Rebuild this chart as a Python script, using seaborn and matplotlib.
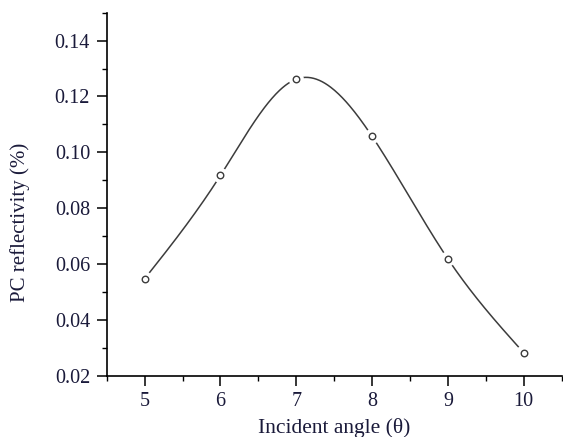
import numpy as np
import pandas as pd
import matplotlib
matplotlib.use("Agg")
import matplotlib.pyplot as plt
import seaborn as sns
from matplotlib.ticker import MultipleLocator

angles = [5, 6, 7, 8, 9, 10]
reflectivity = [0.0547, 0.0917, 0.1262, 0.1057, 0.0618, 0.0282]
x_ticks = [5, 6, 7, 8, 9, 10]
y_ticks = [0.02, 0.04, 0.06, 0.08, 0.10, 0.12, 0.14]


def natural_spline(x, y, xs):
    x = np.asarray(x, float); y = np.asarray(y, float)
    n = len(x)
    h = np.diff(x)
    A = np.zeros((n, n)); b = np.zeros(n)
    A[0, 0] = A[-1, -1] = 1
    for i in range(1, n - 1):
        A[i, i - 1] = h[i - 1]; A[i, i] = 2 * (h[i - 1] + h[i]); A[i, i + 1] = h[i]
        b[i] = 3 * ((y[i + 1] - y[i]) / h[i] - (y[i] - y[i - 1]) / h[i - 1])
    c = np.linalg.solve(A, b)
    out = np.empty_like(xs)
    for k, xv in enumerate(xs):
        i = min(max(np.searchsorted(x, xv) - 1, 0), n - 2)
        d = xv - x[i]
        bi = (y[i + 1] - y[i]) / h[i] - h[i] * (2 * c[i] + c[i + 1]) / 3
        di = (c[i + 1] - c[i]) / (3 * h[i])
        out[k] = y[i] + bi * d + c[i] * d ** 2 + di * d ** 3
    return out


df = pd.DataFrame({"angle": angles, "refl": reflectivity})
xs = np.linspace(angles[0], angles[-1], 400)
curve = pd.DataFrame({"angle": xs, "refl": natural_spline(angles, reflectivity, xs)})

sns.set_theme(style="white")
plt.rcParams["font.family"] = ["Liberation Serif", "DejaVu Serif"]

fig = plt.figure(figsize=(5.63, 4.37), dpi=100)
ax = fig.add_axes([0.1895, 0.1403, 0.8095, 0.8307])

sns.lineplot(data=curve, x="angle", y="refl", ax=ax, color="#3c3c3c", linewidth=1.1)
sns.scatterplot(data=df, x="angle", y="refl", ax=ax, s=120, color="white",
                edgecolor="none", linewidth=0, zorder=3)
sns.scatterplot(data=df, x="angle", y="refl", ax=ax, s=22, marker="o",
                facecolor="white", edgecolor="#3c3c3c", linewidth=1.0, zorder=4)

ax.set_xlim(4.5, 10.51)
ax.set_ylim(0.02, 0.15)
ax.set_xticks(x_ticks)
ax.set_yticks(y_ticks)
ax.set_yticklabels([f"{v:.2f}" for v in y_ticks])
ax.xaxis.set_minor_locator(MultipleLocator(0.5))
ax.yaxis.set_minor_locator(MultipleLocator(0.01))

for side in ["top", "right"]:
    ax.spines[side].set_visible(False)
for side in ["left", "bottom"]:
    ax.spines[side].set_color("black")
    ax.spines[side].set_linewidth(1.2)

txtc = "#1a1a3a"
ax.tick_params(axis="both", which="major", direction="out", length=7, width=1.1,
               color="black", labelsize=14.5, labelcolor=txtc, pad=5,
               bottom=True, left=True)
ax.tick_params(axis="both", which="minor", direction="out", length=3.5, width=1.0,
               color="black", bottom=True, left=True)

ax.set_xlabel("Incident angle (\u03b8)", fontsize=15.5, color=txtc, labelpad=5)
ax.set_ylabel("PC reflectivity (%)", fontsize=15, color=txtc,
              va="center", ha="center")
ax.yaxis.set_label_coords(-0.19, 0.423)
ax.grid(False)

fig.savefig("out.png", dpi=100)
